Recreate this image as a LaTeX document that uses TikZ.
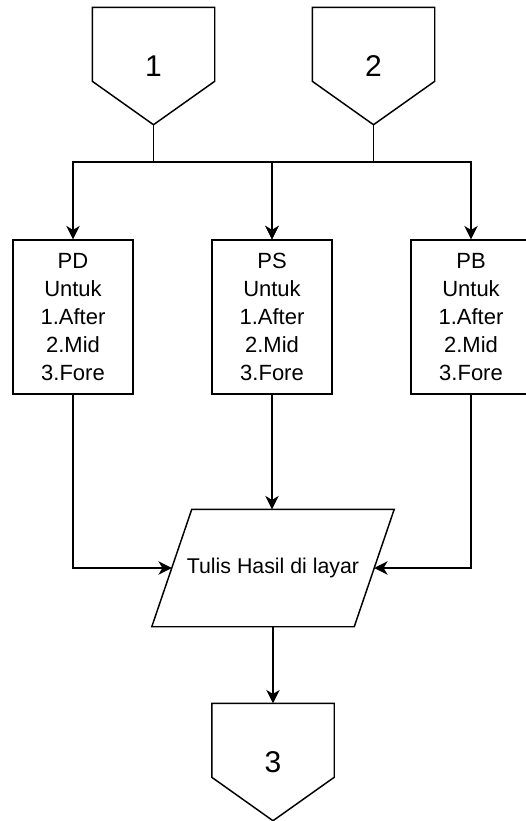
\documentclass[tikz,border=0pt]{standalone}
\usepackage{fontspec}
\setmainfont{Liberation Sans}
\usetikzlibrary{arrows.meta,calc}

\begin{document}
\begin{tikzpicture}[x=0.75pt,y=-0.75pt,line width=1.1pt,
    >={Stealth[length=10pt,width=10pt,inset=3pt]},
    proses/.style={draw,minimum width=90pt,minimum height=115.5pt,align=center,
      font=\fontsize{16.5}{21}\selectfont},
    konektor/.style={minimum width=90.75pt,minimum height=87pt,inner sep=0pt,
      font=\fontsize{22.5}{27}\selectfont},
    keluaran/.style={minimum width=180.75pt,minimum height=87pt,inner sep=0pt,
      font=\fontsize{16}{19}\selectfont}]
  \useasboundingbox (0,0) rectangle (525,821);
  \node[konektor] (K1) at (153.5,66) {1};
  \node[konektor] (K2) at (373.5,66) {2};
  \node[proses] (PD) at (73,317) {PD\\Untuk\\1.After\\2.Mid\\3.Fore};
  \node[proses] (PS) at (272,317) {PS\\Untuk\\1.After\\2.Mid\\3.Fore};
  \node[proses] (PB) at (471,317) {PB\\Untuk\\1.After\\2.Mid\\3.Fore};
  \node[keluaran] (IO) at (273,568) {Tulis Hasil di layar};
  \node[konektor] (K3) at (273,762) {3};
  \coordinate (bus) at (0,162);
  % bentuk konektor dan jajaran genjang
  \foreach \k in {K1,K2,K3}
    \draw (\k.north west) -- (\k.north east) -- ($(\k.north east)!0.63!(\k.south east)$)
      -- (\k.south) -- ($(\k.north west)!0.63!(\k.south west)$) -- cycle;
  \draw ([xshift=30pt]IO.north west) -- (IO.north east)
    -- ([xshift=-30pt]IO.south east) -- (IO.south west) -- cycle;
  \coordinate (IOkiri) at ([xshift=15pt]IO.west);
  \coordinate (IOkanan) at ([xshift=-15pt]IO.east);
  \draw (K1.south) -- (K1.south |- bus);
  \draw[->] (K1.south |- bus) -| (PD.north);
  \draw[->] (K1.south |- bus) -| (PS.north);
  \draw[->] (K2.south) -- (K2.south |- bus) -| (PB.north);
  \draw[->] (K2.south |- bus) -| (PS.north);
  \draw[->] (PD.south) |- (IOkiri);
  \draw[->] (PS.south) -- (PS.south |- IO.north);
  \draw[->] (PB.south) |- (IOkanan);
  \draw[->] (IO.south) -- (K3.north);
\end{tikzpicture}
\end{document}
